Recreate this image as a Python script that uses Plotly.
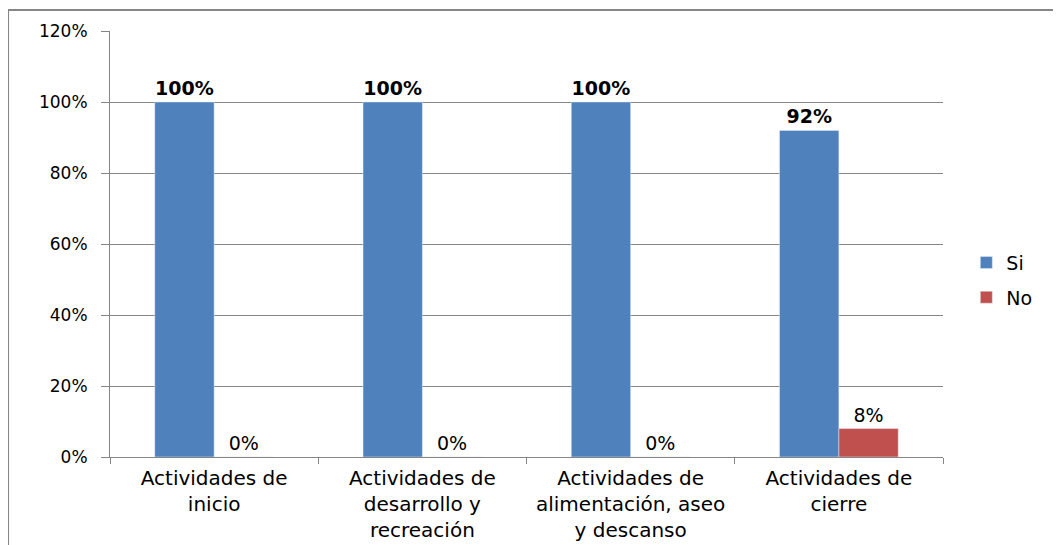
import plotly.graph_objects as go

categories = ["Actividades de<br>inicio", "Actividades de<br>desarrollo y<br>recreación",
              "Actividades de<br>alimentación, aseo<br>y descanso", "Actividades de<br>cierre"]
si_values = [1.00, 1.00, 1.00, 0.92]
no_values = [0.00, 0.00, 0.00, 0.08]
y_ticks = [0, 0.2, 0.4, 0.6, 0.8, 1.0, 1.2]
y_tick_labels = ["0%", "20%", "40%", "60%", "80%", "100%", "120%"]

FONT = "DejaVu Sans"
fig = go.Figure()
fig.add_trace(go.Bar(x=categories, y=si_values, name="Si", marker_color="#4F81BD",
                     legendgroup="si",
                     text=["<b>%d%%</b>" % round(v * 100) for v in si_values],
                     textposition="outside", cliponaxis=False,
                     textfont=dict(size=19, color="#000000", family=FONT)))
fig.add_trace(go.Bar(x=categories, y=no_values, name="No", marker_color="#C0504D",
                     legendgroup="no",
                     text=["%d%%" % round(v * 100) for v in no_values],
                     textposition="outside", cliponaxis=False,
                     textfont=dict(size=19, color="#000000", family=FONT)))

fig.update_layout(
    width=1061, height=545,
    margin=dict(l=102, r=126, t=23, b=96),
    barmode="group", bargap=0.43, bargroupgap=0,
    plot_bgcolor="white", paper_bgcolor="white",
    font=dict(family=FONT, size=16, color="#000000"),
    legend=dict(x=1.028, y=0.415, xanchor="left", yanchor="middle",
                font=dict(size=19), tracegroupgap=7, traceorder="grouped"),
    xaxis=dict(showline=True, linecolor="#868686", linewidth=1, ticks="outside",
               tickcolor="#868686", ticklen=6, tickson="boundaries",
               tickfont=dict(size=20), showgrid=False, ticklabelstandoff=3),
    yaxis=dict(range=[0, 1.2], tickvals=y_ticks, ticktext=y_tick_labels,
               showline=True, linecolor="#868686", linewidth=1, ticks="outside",
               tickcolor="#868686", ticklen=8, showgrid=True, gridcolor="#868686",
               gridwidth=1, tickfont=dict(size=17), zeroline=False,
               ticklabelstandoff=10),
)
fig.add_shape(type="rect", xref="paper", yref="paper", x0=-0.1224, x1=1.3, y0=-0.4, y1=1.0493,
              line=dict(color="#868686", width=2), fillcolor="rgba(0,0,0,0)", layer="below")
fig.write_html("out.html")
